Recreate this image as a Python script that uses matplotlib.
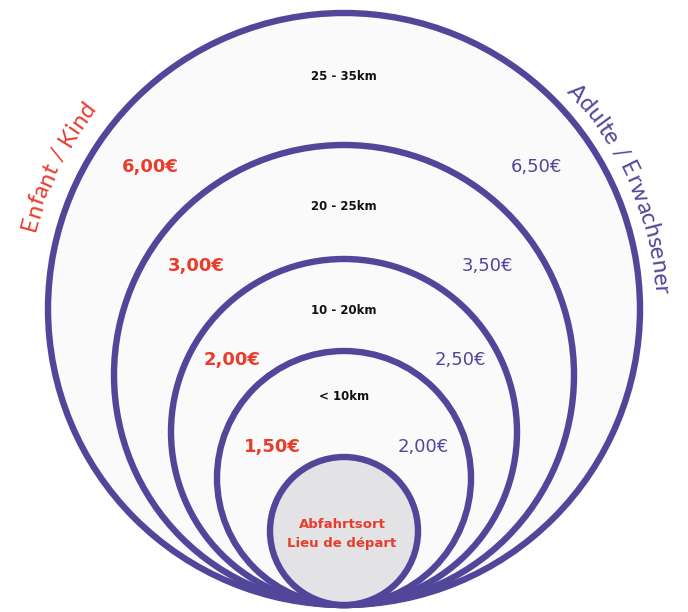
import numpy as np
import matplotlib
matplotlib.use("Agg")
import matplotlib.pyplot as plt
from matplotlib.patches import Circle
from matplotlib.font_manager import FontProperties
from matplotlib.textpath import text_to_path

# distance bands, outer to inner
bands = ["25 - 35km", "20 - 25km", "10 - 20km", "< 10km"]
price_child = ["6,00€", "3,00€", "2,00€", "1,50€"]
price_adult = ["6,50€", "3,50€", "2,50€", "2,00€"]
start_label = ["Abfahrtsort", "Lieu de départ"]
child_title = "Enfant / Kind"
adult_title = "Adulte / Erwachsener"

# layout (pixels), all rings touch the bottom point
radii = [296, 230, 173, 127, 74]
bx, by = 344, 605
band_y = [77, 207, 310, 396]
child_xy = [(150, 167), (196, 266), (232, 360), (272, 447)]
adult_xy = [(536, 167), (487, 266), (460, 360), (423, 447)]

purple = "#52469a"
red = "#e83c2d"
FONT = "DejaVu Sans"
TITLE_FONT = "Lato"

fig = plt.figure(figsize=(6.88, 6.12), dpi=100)
ax = fig.add_axes([0, 0, 1, 1])
ax.set_xlim(0, 688)
ax.set_ylim(612, 0)
ax.set_aspect("equal")
ax.axis("off")

for i, r in enumerate(radii):
    fc = "#e3e2e5" if i == len(radii) - 1 else "#fafafa"
    ax.add_patch(Circle((bx, by - r), r, facecolor=fc, edgecolor=purple, lw=4.6, zorder=2 + i))

for lab, y in zip(bands, band_y):
    ax.text(bx, y, lab, ha="center", va="center", fontsize=8.5, fontweight="bold",
            family=FONT, color="#111111", zorder=10)

for lab, (x, y) in zip(price_child, child_xy):
    ax.text(x, y, lab, ha="center", va="center", fontsize=13, fontweight="bold",
            family=FONT, color=red, zorder=10)
for lab, (x, y) in zip(price_adult, adult_xy):
    ax.text(x, y, lab, ha="center", va="center", fontsize=13,
            family=FONT, color=purple, zorder=10)

ax.text(bx - 2, 524, start_label[0], ha="center", va="center", fontsize=9.5,
        fontweight="bold", family=FONT, color=red, zorder=10)
ax.text(bx - 2, 544, start_label[1], ha="center", va="center", fontsize=9.5,
        fontweight="bold", family=FONT, color=red, zorder=10)


def arc_text(s, cx, cy, r, mid_deg, size, color):
    fp = FontProperties(family=TITLE_FONT, size=size)
    k = fig.dpi / 72.0

    def w(t):
        if not t:
            return 0.0
        return text_to_path.get_text_width_height_descent(t.replace(" ", "\u00a0"), fp, ismath=False)[0] * k

    total = w(s)
    for i, ch in enumerate(s):
        pos = (w(s[:i]) + w(s[:i + 1])) / 2 - total / 2
        th = np.radians(mid_deg) - pos / r
        x = cx + r * np.cos(th)
        y = cy - r * np.sin(th)
        ax.text(x, y, ch, fontproperties=fp, color=color, ha="center", va="baseline",
                rotation=np.degrees(th) - 90, rotation_mode="anchor", zorder=10)


cy0 = by - radii[0]
arc_text(child_title, bx, cy0, 318, 153.5, 17, red)
arc_text(adult_title, bx, cy0, 310, 23.5, 17, purple)

fig.savefig("out.png", dpi=100, facecolor="white")
